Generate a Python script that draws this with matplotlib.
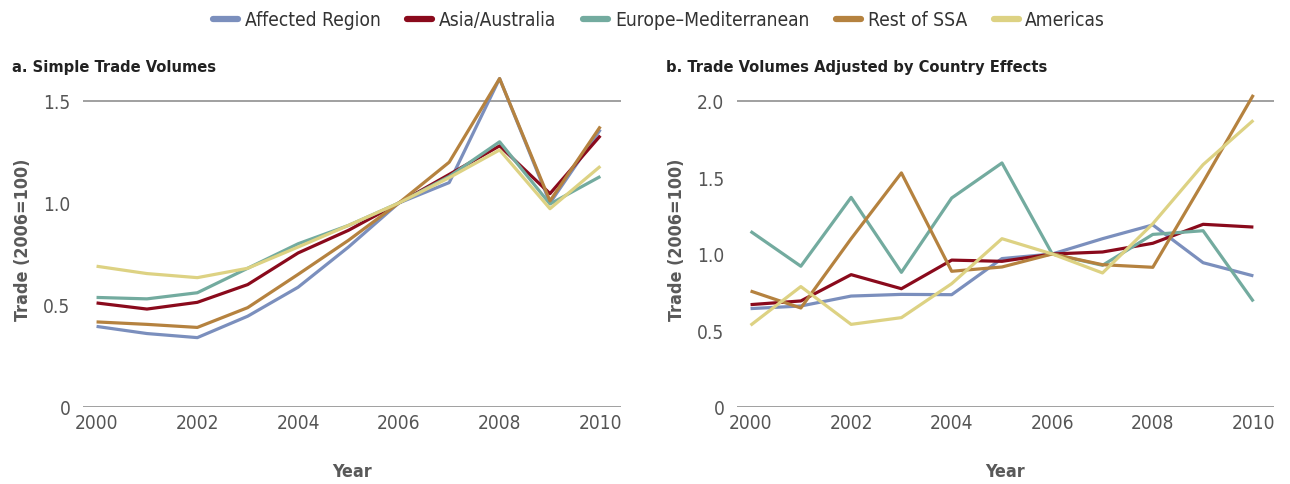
import matplotlib
matplotlib.use("Agg")
import matplotlib.pyplot as plt
from matplotlib.lines import Line2D
from matplotlib import font_manager as fm

years = [2000, 2001, 2002, 2003, 2004, 2005, 2006, 2007, 2008, 2009, 2010]
series_names = ["Affected Region", "Asia/Australia", "Europe\u2013Mediterranean", "Rest of SSA", "Americas"]
colors = ["#7b8fbd", "#8a0a1c", "#73ab9f", "#b5823f", "#ddd283"]

# Panel a: simple trade volumes
a_affected = [0.395, 0.36, 0.34, 0.445, 0.587, 0.784, 1.0, 1.10, 1.61, 1.00, 1.36]
a_asia = [0.51, 0.48, 0.513, 0.60, 0.755, 0.866, 1.0, 1.14, 1.28, 1.046, 1.33]
a_europe = [0.537, 0.53, 0.56, 0.68, 0.80, 0.89, 1.0, 1.13, 1.30, 0.995, 1.13]
a_ssa = [0.417, 0.405, 0.39, 0.487, 0.65, 0.817, 1.0, 1.20, 1.61, 1.01, 1.375]
a_americas = [0.69, 0.654, 0.634, 0.68, 0.784, 0.89, 1.0, 1.124, 1.26, 0.972, 1.18]

# Panel b: trade volumes adjusted by country effects
b_affected = [0.643, 0.66, 0.725, 0.736, 0.734, 0.97, 1.0, 1.10, 1.19, 0.943, 0.857]
b_asia = [0.669, 0.693, 0.865, 0.773, 0.96, 0.952, 1.0, 1.013, 1.07, 1.194, 1.176]
b_europe = [1.148, 0.92, 1.37, 0.88, 1.366, 1.595, 1.0, 0.926, 1.128, 1.152, 0.69]
b_ssa = [0.758, 0.647, 1.10, 1.53, 0.887, 0.915, 1.0, 0.93, 0.913, 1.47, 2.04]
b_americas = [0.534, 0.787, 0.54, 0.584, 0.806, 1.10, 1.0, 0.876, 1.198, 1.584, 1.874]

a_yticks = [0, 0.5, 1.0, 1.5]
a_yticklabels = ["0", "0.5", "1.0", "1.5"]
b_yticks = [0, 0.5, 1.0, 1.5, 2.0]
b_yticklabels = ["0", "0.5", "1.0", "1.5", "2.0"]
xticks = [2000, 2002, 2004, 2006, 2008, 2010]
titles = ["a. Simple Trade Volumes", "b. Trade Volumes Adjusted by Country Effects"]

# pick a condensed / narrow font if one is installed
names = {f.name for f in fm.fontManager.ttflist}
cond = [f for f in fm.fontManager.ttflist
        if f.stretch in ("condensed", "semi-condensed", "extra-condensed") or
        "Narrow" in f.name or "Condensed" in f.name]
if "Liberation Sans Narrow" in names:
    FAMILY = "Liberation Sans Narrow"
    STRETCH = "normal"
    SCALE = 1.07
elif any(f.name == "DejaVu Sans" and f.stretch != "normal" for f in cond):
    FAMILY = "DejaVu Sans"
    STRETCH = "condensed"
    SCALE = 1.0
else:
    FAMILY = "DejaVu Sans"
    STRETCH = "normal"
    SCALE = 0.92
plt.rcParams["font.family"] = [FAMILY, "DejaVu Sans"]
plt.rcParams["font.stretch"] = STRETCH

fs_tick = 13.7 * SCALE
fs_lab = 12.9 * SCALE
fs_title = 11.8 * SCALE
fs_leg = 13.8 * SCALE

fig = plt.figure(figsize=(12.9, 4.85), dpi=100)
ax_a = fig.add_axes([0.0643, 0.1588, 0.4171, 0.694])
ax_b = fig.add_axes([0.5713, 0.1588, 0.4163, 0.694])

panels = [
    (ax_a, [a_affected, a_asia, a_europe, a_ssa, a_americas], a_yticks, a_yticklabels, 1.65),
    (ax_b, [b_affected, b_asia, b_europe, b_ssa, b_americas], b_yticks, b_yticklabels, 2.2),
]

tick_color = "#555555"
for i, (ax, data, yt, ytl, ytop) in enumerate(panels):
    for vals, c in zip(data, colors):
        ax.plot(years, vals, color=c, lw=2.3, solid_capstyle="butt", clip_on=False, zorder=3)
    ax.set_xlim(1999.73, 2010.41)
    ax.set_ylim(0, ytop)
    ax.axhline(0, color="#999999", lw=1.3, zorder=1)
    ax.axhline(yt[-1], color="#999999", lw=1.3, zorder=1)
    for s in ax.spines.values():
        s.set_visible(False)
    ax.set_yticks(yt)
    ax.set_yticklabels(ytl)
    ax.set_xticks(xticks)
    ax.set_xticklabels([str(x) for x in xticks])
    ax.tick_params(axis="both", length=0, labelsize=fs_tick, labelcolor=tick_color)
    ax.tick_params(axis="y", pad=9)
    ax.tick_params(axis="x", pad=4)
    ax.set_ylabel("Trade (2006=100)", fontsize=fs_lab, fontweight="bold", color="#595959", labelpad=8)
    ax.set_xlabel("Year", fontsize=fs_lab, fontweight="bold", color="#595959", labelpad=22)

fig.text(12 / 1290, 1 - 68 / 485, titles[0], fontsize=fs_title, fontweight="bold", color="#222222", va="center", ha="left")
fig.text(666 / 1290, 1 - 68 / 485, titles[1], fontsize=fs_title, fontweight="bold", color="#222222", va="center", ha="left")

handles = [Line2D([0], [0], color=c, lw=4.5, solid_capstyle="round") for c in colors]
fig.legend(handles, series_names, loc="center", bbox_to_anchor=(0.511, 1 - 21 / 485), ncol=5,
           frameon=False, fontsize=fs_leg, handlelength=1.3, handletextpad=0.35, columnspacing=1.4,
           labelcolor="#333333")

fig.savefig("out.png", dpi=100)
